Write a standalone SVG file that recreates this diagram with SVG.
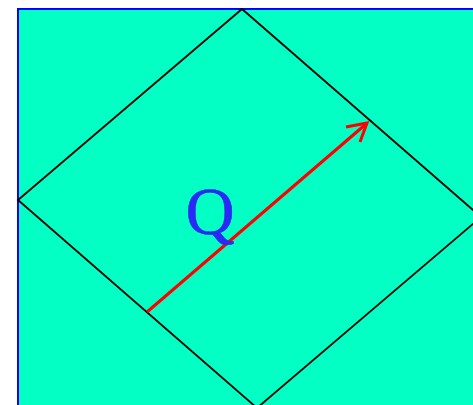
<svg xmlns="http://www.w3.org/2000/svg" width="473" height="405" viewBox="0 0 473 405">
  <defs>
    <style>
      .bg { fill: #03ffc3; stroke: #0000ff; stroke-width: 2; }
      .shape { fill: none; stroke: #000000; stroke-width: 1.8; }
      .arrow { fill: none; stroke: #ff0000; stroke-width: 3; }
      .label { font-family: "Liberation Serif", "Times New Roman", serif; font-size: 68px; fill: #2a2af5; text-anchor: middle; stroke: #2a2af5; stroke-width: 0.6; }
    </style>
  </defs>
  <g id="background">
    <rect class="bg" x="18" y="9" width="470" height="410"/>
  </g>
  <g id="rhombus">
    <polygon class="shape" points="242,9 481,217 257,408 18,200"/>
  </g>
  <g id="connectors">
    <line class="arrow" x1="147" y1="312" x2="366" y2="124"/>
    <polyline class="arrow" points="346,127 367,123 360,142"/>
  </g>
  <g id="label-Q">
    <text class="label" x="210" y="234">Q</text>
  </g>
</svg>
